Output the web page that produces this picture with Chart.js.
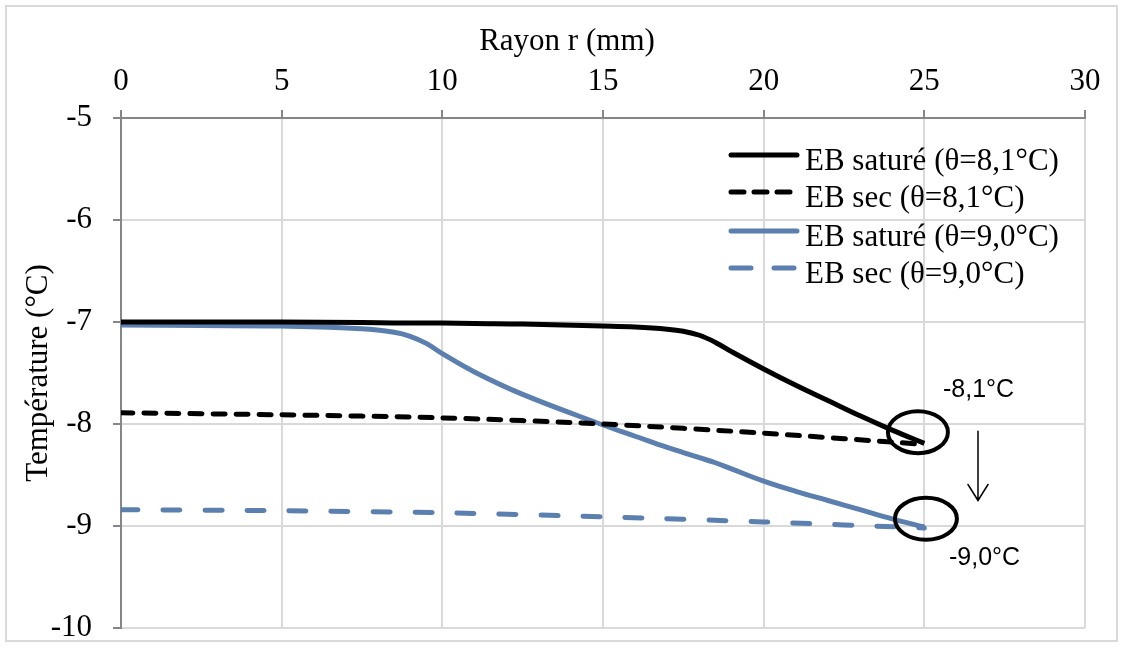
<!DOCTYPE html>
<html>
<head>
<meta charset="utf-8">
<script src="https://cdn.jsdelivr.net/npm/chart.js@4.4.1/dist/chart.umd.min.js"></script>
<style>
  html, body { margin: 0; padding: 0; background: #fff; }
  #wrap { width: 1123px; height: 648px; }
</style>
</head>
<body>
<div id="wrap"><canvas id="tempChart" width="1123" height="648"></canvas></div>
<script>
// radius (mm) for the smooth curves and for the dashed ones
const rFine = [0, 2.5, 5, 7.5, 8.5, 9, 9.5, 10, 11, 12.5, 15, 16, 17, 17.5, 18, 18.5, 19, 20, 21, 22, 23, 24, 25];
const rCoarse = [0, 5, 10, 15, 20, 25];

const satur81 = [-7.00, -7.00, -7.00, -7.005, -7.01, -7.01, -7.01, -7.01, -7.015, -7.02, -7.04, -7.05, -7.07, -7.09, -7.13, -7.20, -7.29, -7.46, -7.62, -7.77, -7.92, -8.06, -8.19];
const satur90 = [-7.03, -7.035, -7.04, -7.065, -7.10, -7.14, -7.21, -7.31, -7.49, -7.71, -8.01, -8.12, -8.23, -8.28, -8.33, -8.38, -8.44, -8.56, -8.66, -8.75, -8.84, -8.93, -9.01];
const sec81 = [-7.89, -7.91, -7.94, -8.00, -8.09, -8.20];
const sec90 = [-8.84, -8.85, -8.87, -8.91, -8.96, -9.02];

const seriesLabels = ['EB saturé (θ=8,1°C)', 'EB sec (θ=8,1°C)', 'EB saturé (θ=9,0°C)', 'EB sec (θ=9,0°C)'];
const xTicks = [0, 5, 10, 15, 20, 25, 30];
const yTicks = [-10, -9, -8, -7, -6, -5];

const BLUE = '#5b7fae';
const SERIF = "'Liberation Serif', 'Times New Roman', serif";

function pts(xs, ys) {
    return xs.map((x, i) => ({ x: x, y: ys[i] }));
}

// frame, x title, legend and the circled end values
const extras = {
    id: 'extras',
    beforeDraw(chart) {
        const ctx = chart.ctx;
        ctx.save();
        ctx.fillStyle = '#fff';
        ctx.fillRect(0, 0, chart.width, chart.height);
        ctx.strokeStyle = '#d9d9d9';
        ctx.lineWidth = 2;
        ctx.strokeRect(6, 6, 1111, 635);
        ctx.restore();
    },
    afterDraw(chart) {
        const ctx = chart.ctx;
        const xs = chart.scales.x, ys = chart.scales.y;
        ctx.save();

        // x axis title
        ctx.fillStyle = '#000';
        ctx.font = '31px ' + SERIF;
        ctx.textAlign = 'center';
        ctx.textBaseline = 'alphabetic';
        ctx.fillText('Rayon r (mm)', 567, 50);

        // legend
        const rowY = [155, 192, 231, 268];
        chart.data.datasets.forEach((ds, i) => {
            ctx.beginPath();
            ctx.strokeStyle = ds.borderColor;
            ctx.lineWidth = 5;
            ctx.lineCap = 'round';
            ctx.setLineDash(ds.legendDash || []);
            ctx.moveTo(731, rowY[i]);
            ctx.lineTo(797, rowY[i]);
            ctx.stroke();
            ctx.setLineDash([]);
            ctx.fillStyle = '#000';
            ctx.textAlign = 'left';
            ctx.fillText(ds.label, 805, rowY[i] + 15);
        });

        // circles on the end values
        ctx.strokeStyle = '#000';
        ctx.lineWidth = 4;
        ctx.beginPath();
        ctx.ellipse(xs.getPixelForValue(24.8), ys.getPixelForValue(-8.08), 30, 21, 0, 0, Math.PI * 2);
        ctx.stroke();
        ctx.beginPath();
        ctx.ellipse(xs.getPixelForValue(25.05), ys.getPixelForValue(-8.93), 31, 21, 0, 0, Math.PI * 2);
        ctx.stroke();

        // arrow
        const ax = xs.getPixelForValue(26.67);
        const ay0 = ys.getPixelForValue(-8.07), ay1 = ys.getPixelForValue(-8.75);
        ctx.lineWidth = 1.5;
        ctx.beginPath();
        ctx.moveTo(ax, ay0);
        ctx.lineTo(ax, ay1);
        ctx.moveTo(ax - 10, ay1 - 16);
        ctx.lineTo(ax, ay1);
        ctx.lineTo(ax + 10, ay1 - 16);
        ctx.stroke();

        ctx.font = "25px 'Liberation Sans', Arial, sans-serif";
        ctx.fillStyle = '#000';
        ctx.textAlign = 'left';
        ctx.fillText('-8,1°C', 943, 397);
        ctx.fillText('-9,0°C', 949, 565);
        ctx.restore();
    }
};

const chart = new Chart(document.getElementById('tempChart'), {
    type: 'line',
    data: {
        datasets: [
            {
                label: seriesLabels[0],
                data: pts(rFine, satur81),
                borderColor: '#000',
                borderWidth: 5,
                tension: 0.4
            },
            {
                label: seriesLabels[1],
                data: pts(rCoarse, sec81),
                borderColor: '#000',
                borderWidth: 5,
                borderDash: [12, 11],
                borderCapStyle: 'round',
                legendDash: [13, 10],
                tension: 0.3
            },
            {
                label: seriesLabels[2],
                data: pts(rFine, satur90),
                borderColor: BLUE,
                borderWidth: 5,
                tension: 0.4
            },
            {
                label: seriesLabels[3],
                data: pts(rCoarse, sec90),
                borderColor: BLUE,
                borderWidth: 5,
                borderDash: [17, 25],
                borderCapStyle: 'round',
                legendDash: [20, 23],
                tension: 0.3
            }
        ]
    },
    options: {
        responsive: false,
        animation: false,
        layout: { padding: { left: 0, top: 0, right: 38, bottom: 20 } },
        elements: { point: { radius: 0 } },
        plugins: {
            legend: { display: false },
            tooltip: { enabled: false }
        },
        scales: {
            x: {
                type: 'linear',
                position: 'top',
                min: 0,
                max: 30,
                afterBuildTicks: s => { s.ticks = xTicks.map(v => ({ value: v })); },
                afterFit: s => {
                    s.height = 118;
                    s.paddingLeft = 0; s.paddingRight = 0;
                    s.paddingTop = 0; s.paddingBottom = 0;
                },
                ticks: {
                    color: '#000',
                    padding: 10,
                    font: { family: SERIF, size: 31 }
                },
                grid: { color: '#d9d9d9', lineWidth: 2, tickColor: '#868686', tickLength: 8 },
                border: { color: '#868686', width: 2 }
            },
            y: {
                type: 'linear',
                min: -10,
                max: -5,
                afterBuildTicks: s => { s.ticks = yTicks.map(v => ({ value: v })); },
                afterFit: s => {
                    s.width = 121;
                    s.paddingLeft = 0; s.paddingRight = 0;
                    s.paddingTop = 0; s.paddingBottom = 0;
                },
                ticks: {
                    color: '#000',
                    padding: 21,
                    font: { family: SERIF, size: 31 }
                },
                grid: { color: '#d9d9d9', lineWidth: 2, tickColor: '#868686', tickLength: 8 },
                border: { color: '#868686', width: 2 },
                title: {
                    display: true,
                    text: 'Température (°C)',
                    color: '#000',
                    padding: { top: 20, bottom: 0 },
                    font: { family: SERIF, size: 31 }
                }
            }
        }
    },
    plugins: [extras]
});
</script>
</body>
</html>
